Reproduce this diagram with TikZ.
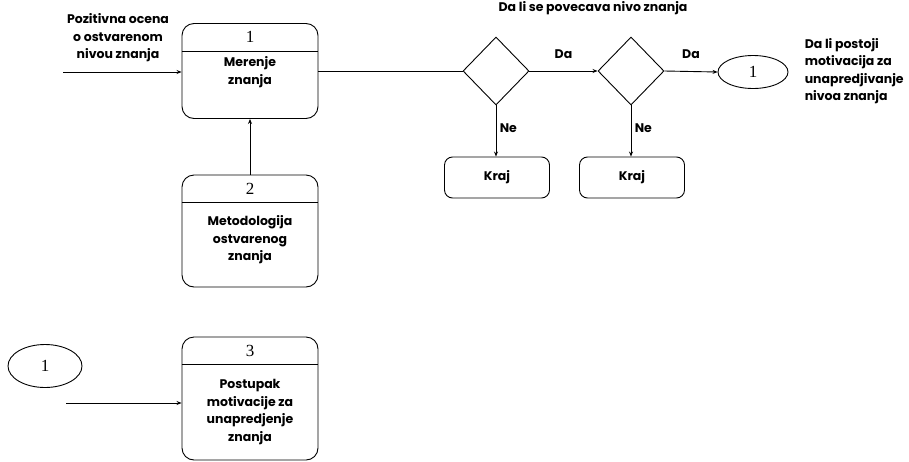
\documentclass[tikz,border=0pt]{standalone}
\usepackage{fontspec}
\setmainfont{Poppins}
\newfontfamily\numfont{Liberation Serif}
\usetikzlibrary{shapes.geometric,arrows.meta,calc,positioning}

\tikzset{
	proc/.style={draw, rounded corners=12pt, minimum width=136pt, inner sep=0pt},
	kraj/.style={draw, rounded corners=8pt, minimum width=105pt, minimum height=41pt, inner sep=0pt},
	odluka/.style={draw, diamond, minimum width=66pt, minimum height=68pt, inner sep=0pt},
	veza/.style={draw, ellipse, inner sep=0pt, font=\numfont\fontsize{17}{19}\selectfont},
	num/.style={font=\numfont\fontsize{17}{19}\selectfont},
	lbl/.style={align=center}
}

\begin{document}
\begin{tikzpicture}[x=1pt,y=-1pt,>={Stealth[length=5pt,width=4pt]}, font=\bfseries\fontsize{12.5}{17.5}\selectfont, line width=0.9pt, line join=round]
	\useasboundingbox (0,0) rectangle (909,461);
	\def\hd{28} % visina zaglavlja
	% procesi
	\node[proc, minimum height=95pt] (m1) at (250,71) {};
	\node[proc, minimum height=112pt] (m2) at (250,231) {};
	\node[proc, minimum height=123pt] (m3) at (250,398.5) {};
	\foreach \n/\k in {m1/1,m2/2,m3/3}{
		\draw ($(\n.north west)+(0,\hd)$) -- ($(\n.north east)+(0,\hd)$);
		\node[num] (\n-k) at ($(\n.north)+(0,14)$) {\k};
	}
	\node[lbl] (t1) at (250,72) {Merenje\\znanja};
	\node[lbl] (t2) at (250,240) {Metodologija\\ostvarenog\\znanja};
	\node[lbl] (t3) at (250,412) {Postupak\\motivacije za\\unapredjenje\\znanja};
	% odluke
	\node[odluka] (d1) at (496,71) {};
	\node[odluka] (d2) at (631,71) {};
	\node[kraj] (k1) at (497,177.5) {Kraj};
	\node[kraj] (k2) at (632,177.5) {Kraj};
	\node[veza, minimum width=70pt, minimum height=33pt] (e1) at (753,72) {1};
	\node[veza, minimum width=74pt, minimum height=43pt] (e2) at (45,366) {1};
	% tekst
	\node[lbl] (ulaz) at (118,38) {Pozitivna ocena\\o ostvarenom\\nivou znanja};
	\node[align=left, anchor=west] (pitanje) at (801,71) {Da li postoji\\motivacija za\\unapredjivanje\\nivoa znanja};
	\node[anchor=base] (naslov) at (593,11) {Da li se povecava nivo znanja};
	% veze
	\coordinate (in1) at (63,72);
	\coordinate (in3) at (66,403);
	\draw[->] (in1) -- (in1 -| m1.west);
	\draw (m1.east |- d1.west) -- (d1.west);
	\draw[->] (d1.east) -- node[above=9pt] (da1) {Da} (d2.west);
	\draw[->] (d2.east) -- node[above=9pt] (da2) {Da} (e1.west);
	\draw[->] (d1.south) -- node[right, pos=0.45] (ne1) {Ne} (d1.south |- k1.north);
	\draw[->] (d2.south) -- node[right, pos=0.45] (ne2) {Ne} (d2.south |- k2.north);
	\draw[->] (m2.north) -- (m1.south);
	\draw[->] (in3) -- (in3 -| m3.west);
\end{tikzpicture}
\end{document}
